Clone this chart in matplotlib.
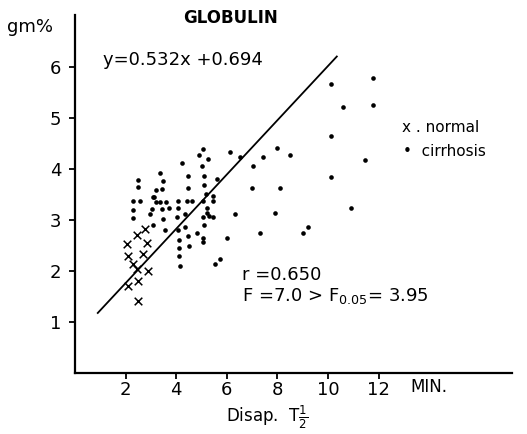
import matplotlib
matplotlib.use("Agg")
import numpy as np
import matplotlib.pyplot as plt

plt.rcParams["font.family"] = "DejaVu Sans"
plt.rcParams["mathtext.fontset"] = "dejavusans"

# ── 数据 ──
normal_x = [2.04, 2.08, 2.30, 2.44, 2.46, 2.77, 2.83, 2.70, 2.90, 2.50, 2.08, 2.50]
normal_y = [2.52, 2.29, 2.13, 2.71, 2.03, 2.82, 2.54, 2.33, 2.00, 1.80, 1.71, 1.40]

cirr_x = [2.48, 2.48, 2.28, 2.57, 2.28, 2.31, 3.36, 3.46, 3.42, 3.19, 3.10, 3.03,
          3.36, 3.59, 3.72, 3.42, 3.49, 3.56, 3.10, 2.96, 4.22, 4.08, 4.08, 4.04,
          4.08, 4.11, 4.11, 4.11, 4.15, 4.35, 4.35, 4.48, 4.48, 4.41, 4.61, 4.48,
          4.52, 4.81, 4.90, 5.07, 5.27, 5.01, 5.10, 5.10, 5.18, 5.47, 5.47, 5.07,
          5.20, 5.20, 5.07, 5.31, 5.47, 5.10, 5.05, 5.05, 5.60, 6.13, 6.52, 6.34,
          6.02, 5.73, 5.53, 7.05, 7.42, 6.98, 7.30, 7.97, 8.50, 8.10, 7.91, 9.02,
          9.22, 10.12, 10.61, 10.12, 10.12, 10.90, 11.46, 11.79, 11.79, 3.20, 3.12]
cirr_y = [3.78, 3.65, 3.37, 3.37, 3.19, 3.03, 3.92, 3.76, 3.60, 3.59, 3.44, 3.21,
          3.34, 3.34, 3.24, 3.21, 3.01, 2.80, 2.90, 3.11, 4.12, 3.37, 3.24, 3.05,
          2.80, 2.60, 2.44, 2.29, 2.10, 3.11, 2.86, 3.86, 3.63, 3.37, 3.37, 2.69,
          2.49, 2.75, 4.27, 4.39, 4.19, 4.06, 3.86, 3.68, 3.50, 3.47, 3.37, 3.37,
          3.24, 3.14, 3.06, 3.08, 3.06, 2.90, 2.65, 2.56, 3.80, 4.32, 4.24, 3.12,
          2.65, 2.23, 2.13, 4.06, 4.24, 3.63, 2.74, 4.40, 4.27, 3.63, 3.14, 2.75,
          2.85, 5.67, 5.22, 4.65, 3.83, 3.24, 4.17, 5.77, 5.24, 3.34, 3.44]

slope, intercept = 0.532, 0.694
fit_x = np.array([0.9, 10.35])

x_ticks = [2, 4, 6, 8, 10, 12]
y_ticks = [1, 2, 3, 4, 5, 6]

fig = plt.figure(figsize=(5.27, 4.34), dpi=100)
ax = fig.add_axes([0.1423, 0.141, 0.829, 0.824])

ax.plot(fit_x, slope * fit_x + intercept, "-", color="black", linewidth=1.3)
ax.scatter(cirr_x, cirr_y, s=11, color="black", marker="o", linewidths=0)
ax.scatter(normal_x, normal_y, s=30, color="black", marker="x", linewidths=1.1)

ax.set_xlim(0, 17.27)
ax.set_ylim(0, 7.01)
ax.spines["top"].set_visible(False)
ax.spines["right"].set_visible(False)
for s in ("left", "bottom"):
    ax.spines[s].set_linewidth(1.6)
ax.set_xticks(x_ticks)
ax.set_yticks(y_ticks)
ax.tick_params(axis="both", direction="out", length=4, width=1.3, labelsize=13)
ax.tick_params(axis="y", pad=6)
ax.tick_params(axis="x", pad=2)

# ── 文字 ──
fig.text(7 / 527, 1 - 27 / 434, "gm%", fontsize=13, va="center", ha="left")
fig.text(230 / 527, 1 - 18 / 434, "GLOBULIN", fontsize=12, va="center", ha="center",
         fontweight="bold")
fig.text(103 / 527, 1 - 60 / 434, "y=0.532x +0.694", fontsize=13, va="center", ha="left")
fig.text(402 / 527, 1 - 127 / 434, "x . normal", fontsize=11, va="center", ha="left")
fig.text(403 / 527, 1 - 152 / 434, "•  cirrhosis", fontsize=11, va="center", ha="left")
fig.text(242 / 527, 1 - 275 / 434, "r =0.650", fontsize=13, va="center", ha="left")
fig.text(242 / 527, 1 - 296 / 434, r"F =7.0 > F$_{0.05}$= 3.95", fontsize=13,
         va="center", ha="left")
fig.text(410 / 527, 1 - 387 / 434, "MIN.", fontsize=12, va="center", ha="left")
fig.text(267 / 527, 1 - 417 / 434, r"Disap.  T$\frac{1}{2}$", fontsize=12,
         va="center", ha="center")

fig.savefig("out.png", dpi=100)
